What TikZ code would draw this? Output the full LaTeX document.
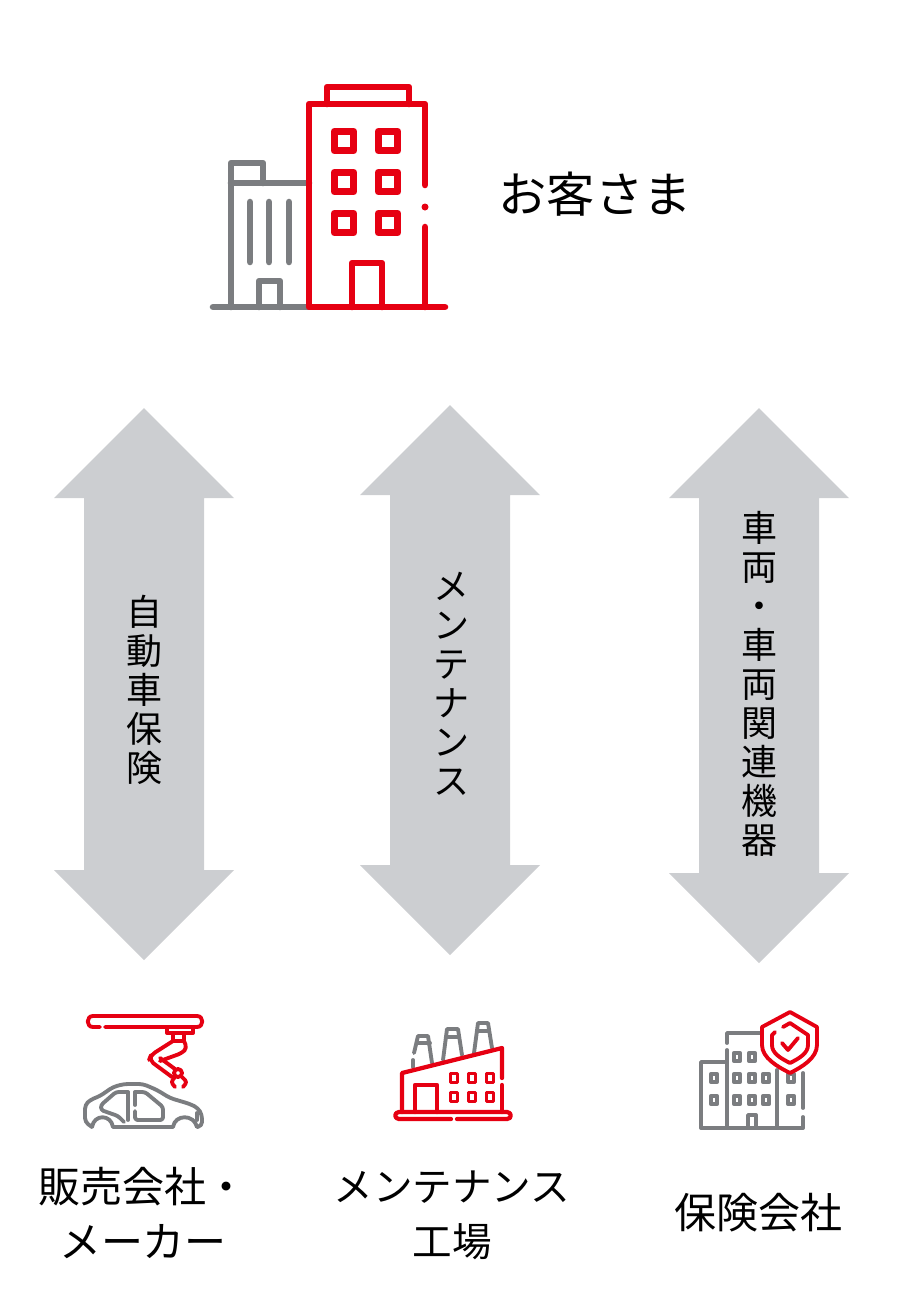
\documentclass[tikz,border=0pt]{standalone}
\usepackage{fontspec}
\setmainfont{Noto Sans CJK JP}
\usepackage{tikz}

\definecolor{iconred}{HTML}{E60012}
\definecolor{icongray}{HTML}{7B7D80}
\definecolor{arrowgray}{HTML}{CCCED1}

\tikzset{
	redline/.style={draw=iconred, line width=4.9pt, line cap=round, line join=round},
	grayline/.style={draw=icongray, line width=4.9pt, line cap=round, line join=round},
	thinred/.style={draw=iconred, line width=2.9pt, line cap=round, line join=round},
	thingray/.style={draw=icongray, line width=2.9pt, line cap=round, line join=round},
	label/.style={align=center, inner sep=0pt, text=black},
	biglabel/.style={label, font=\fontsize{31.5}{41}\selectfont},
	uplabel/.style={label, font=\fontsize{27}{29.2}\selectfont}
}

% double arrow: centre x, top tip y, bottom tip y
\newcommand{\updown}[3]{
	\fill[arrowgray] (#1,#2) -- ++(90,90) -- ++(-30,0) -- (#1+60,#3-90) -- ++(30,0) -- (#1,#3)
		-- ++(-90,-90) -- ++(30,0) -- (#1-60,#2+90) -- ++(-30,0) -- cycle;
}

\begin{document}
\begin{tikzpicture}[x=0.75pt, y=-0.75pt]
	\useasboundingbox (0,0) rectangle (900,1293);

	% customer building
	\draw[grayline] (231,307) -- (231,163) -- (263,163) -- (263,183);
	\draw[grayline] (231,183) -- (309,183);
	\foreach \x in {250,269,289} {
		\draw[grayline] (\x,202) -- (\x,262);
	}
	\draw[grayline] (259,307) -- (259,281) -- (280,281) -- (280,307);
	\draw[grayline] (213,307) -- (309,307);
	\draw[redline] (327,104) -- (327,87) -- (409,87) -- (409,104);
	\draw[redline] (425,185) -- (425,104) -- (309,104) -- (309,307) -- (445,307);
	\draw[redline] (425,227) -- (425,307);
	\fill[iconred] (425,207) circle (3.5);
	\foreach \x in {344,388} {
		\foreach \y in {141,182,223} {
			\draw[redline, line width=5.6pt] (\x-9.7,\y-9.7) rectangle (\x+9.7,\y+9.7);
		}
	}
	\draw[redline] (352,307) -- (352,263) -- (382,263) -- (382,307);

	\node[label, font=\fontsize{36.2}{44}\selectfont] (customer) at (595,194) {お客さま};

	% arrows
	\updown{144}{408}{960}
	\updown{450}{405}{955}
	\updown{759}{408}{963}

	\node[uplabel] (insurance) at (144,690) {自\\動\\車\\保\\険};
	\node[uplabel] (maintenance) at (451,684) {メ\\ン\\テ\\ナ\\ン\\ス};
	\node[uplabel] (vehicle) at (759,684) {車\\両\\・\\車\\両\\関\\連\\機\\器};

	% robot arm and car
	\draw[thinred] (100,1027) -- (93,1027) .. controls (86,1027) and (86,1016) .. (93,1016) -- (197,1016)
		.. controls (204,1016) and (204,1027) .. (197,1027) -- (105,1027);
	\draw[thinred] (167,1027) -- (167,1033) -- (193,1033) -- (193,1027);
	\draw[thinred] (173,1033) -- (173,1041) -- (184,1041) -- (184,1033);
	\draw[thinred, rounded corners=4] (173,1041) -- (151,1055) -- (149,1060) -- (172,1077);
	\draw[thinred, rounded corners=3] (184,1041) -- (187,1048) -- (182,1053) -- (160,1061);
	\draw[thinred] (160,1058) -- (175,1069);
	\draw[thinred] (178,1073) circle (4);
	\draw[thinred, rounded corners=2] (175,1077) -- (171,1082) -- (175,1087);
	\draw[thinred, rounded corners=2] (182,1077) -- (187,1082) -- (183,1087);
	\draw[thingray, rounded corners=3] (92,1127) -- (85,1122) -- (85,1105) -- (90,1100) -- (100,1096) -- (113,1087)
		-- (124,1084) -- (143,1084) -- (157,1090) -- (170,1098) -- (190,1104) -- (198,1108) -- (202,1115)
		-- (202,1126) -- (197,1127);
	\draw[thingray] (197,1127) .. controls (194,1114) and (175,1114) .. (173,1127) -- (113,1127)
		.. controls (111,1114) and (94,1114) .. (92,1127);
	\draw[thingray, rounded corners=2] (128,1092) -- (116,1092) -- (101,1105) -- (101,1110) -- (118,1116) -- (124,1122);
	\draw[thingray] (128,1092) -- (128,1120);
	\draw[thingray] (135,1092) -- (135,1105);
	\draw[thingray, rounded corners=2] (135,1111) -- (135,1120) -- (163,1120) -- (163,1107) -- (145,1092) -- (135,1092);
	\draw[thingray] (197,1113) -- (197,1120);

	% factory
	\draw[thingray] (414,1053) -- (418,1036) -- (428,1036) -- (432,1063);
	\draw[thingray] (413,1060) -- (413,1067);
	\draw[thingray] (417,1043) -- (430,1043);
	\draw[thingray] (443,1060) -- (447,1029) -- (458,1029) -- (462,1055);
	\draw[thingray] (446,1037) -- (459,1037);
	\draw[thingray] (474,1053) -- (478,1023) -- (488,1023) -- (492,1048);
	\draw[thingray] (477,1031) -- (489,1031);
	\draw[redline, line width=3.2pt] (402,1112) -- (402,1073) -- (502,1048) -- (502,1078);
	\draw[redline, line width=3.2pt] (502,1085) -- (502,1112);
	\draw[redline, line width=3.2pt] (415,1112) -- (415,1085) -- (437,1085) -- (437,1112);
	\foreach \x in {454,472,490} {
		\foreach \y in {1078,1097} {
			\draw[thinred] (\x-3.5,\y-4.5) rectangle (\x+3.5,\y+4.5);
		}
	}
	\draw[redline, line width=3.2pt] (451,1119) -- (399,1119) .. controls (394,1119) and (394,1112) .. (399,1112) -- (507,1112)
		.. controls (512,1112) and (512,1119) .. (507,1119) -- (457,1119);

	% office and shield
	\draw[thingray] (725,1062) -- (701,1062) -- (701,1128) -- (803,1128) -- (803,1117);
	\draw[thingray] (727,1043) -- (727,1033) -- (765,1033);
	\draw[thingray] (727,1050) -- (727,1128);
	\draw[thingray] (777,1070) -- (777,1128);
	\draw[thingray] (803,1073) -- (803,1108);
	\foreach \x/\y in {714/1078,714/1100,737/1057,752/1057,737/1078,752/1078,766/1078,737/1100,752/1100,766/1100,791/1078,791/1100} {
		\draw[thingray] (\x-3,\y-4.2) rectangle (\x+3,\y+4.2);
	}
	\draw[thingray] (748,1128) -- (748,1115) -- (756,1115) -- (756,1128);
	\path[fill=white, thinred] (790,1012) -- (817,1027) -- (817,1045) .. controls (817,1058) and (802,1067) .. (790,1073)
		.. controls (778,1067) and (762,1058) .. (762,1045) -- (762,1027) -- cycle;
	\draw[thinred] (775,1032) -- (772,1035) -- (772,1045) .. controls (772,1053) and (780,1058) .. (790,1063)
		.. controls (800,1058) and (808,1053) .. (808,1045) -- (808,1035) -- (790,1023) -- (783,1027);
	\draw[thinred] (782,1043) -- (788,1050) -- (798,1038);

	% bottom labels
	\node[biglabel] (dealer) at (143,1213) {販売会社・\\メーカー};
	\node[label, font=\fontsize{29.7}{41}\selectfont] (shop) at (452,1215) {メンテナンス\\工場};
	\node[biglabel] (insurer) at (758,1213) {保険会社};
\end{tikzpicture}
\end{document}
